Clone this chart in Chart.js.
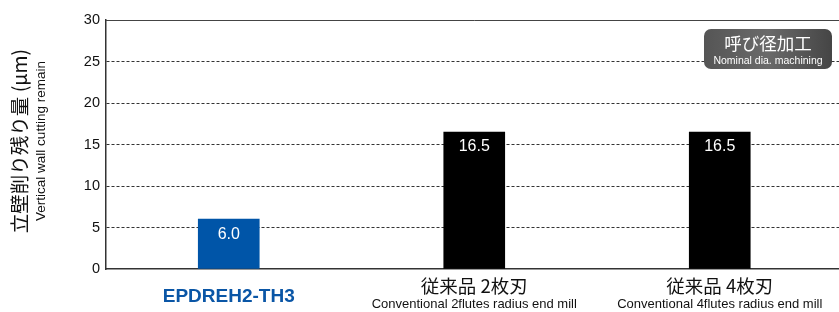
<!DOCTYPE html>
<html>
<head>
<meta charset="utf-8">
<script src="https://cdn.jsdelivr.net/npm/chart.js@4"></script>
<style>
  html, body { margin: 0; padding: 0; background: #fff; overflow: hidden; }
  #wrap { width: 845px; height: 312px; position: relative; }
</style>
</head>
<body>
<div id="wrap"><canvas id="chart-remain"></canvas></div>
<script>
var categories = ['EPDREH2-TH3', '従来品 2枚刃', '従来品 4枚刃'];
var subLabels = ['', 'Conventional 2flutes radius end mill', 'Conventional 4flutes radius end mill'];
var remainValues = [6.0, 16.5, 16.5];
var barColors = ['#0055a8', '#000000', '#000000'];
var yTicks = [0, 5, 10, 15, 20, 25, 30];

var JP = '"Noto Sans CJK JP", "Liberation Sans", sans-serif';
var EN = '"Liberation Sans", Arial, sans-serif';

var extrasPlugin = {
  id: 'extras',
  afterDraw: function (chart) {
    var ctx = chart.ctx;
    var area = chart.chartArea;
    var xs = chart.scales.x;
    ctx.save();

    // top frame line
    ctx.strokeStyle = '#444';
    ctx.lineWidth = 1;
    ctx.beginPath();
    ctx.moveTo(area.left, Math.round(area.top) + 0.5);
    ctx.lineTo(area.right, Math.round(area.top) + 0.5);
    ctx.stroke();

    // value labels inside bars
    var meta = chart.getDatasetMeta(0);
    ctx.fillStyle = '#fff';
    ctx.font = '16px ' + EN;
    ctx.textAlign = 'center';
    ctx.textBaseline = 'middle';
    meta.data.forEach(function (bar, i) {
      ctx.fillText(remainValues[i].toFixed(1), bar.x, bar.y + 15);
    });

    // category labels
    categories.forEach(function (c, i) {
      var x = xs.getPixelForValue(i);
      if (i === 0) {
        ctx.fillStyle = '#0a56a6';
        ctx.font = 'bold 19px ' + EN;
        ctx.fillText(c, x, 297);
      } else {
        ctx.fillStyle = '#111';
        ctx.font = '18.5px ' + JP;
        ctx.fillText(c, x, 286);
        ctx.font = '13px ' + EN;
        ctx.fillText(subLabels[i], x, 304);
      }
    });

    // y axis title
    ctx.fillStyle = '#111';
    ctx.translate(20, 141);
    ctx.rotate(-Math.PI / 2);
    ctx.font = '19.5px ' + JP;
    ctx.fillText('立壁削り残り量 (μm)', 0, 0);
    ctx.font = '13.5px ' + EN;
    ctx.fillText('Vertical wall cutting remain', 0, 21);
    ctx.setTransform(1, 0, 0, 1, 0, 0);

    // badge
    var bx = 704, by = 29, bw = 128, bh = 40, r = 7;
    var g = ctx.createLinearGradient(bx, 0, bx + bw, 0);
    g.addColorStop(0, '#555');
    g.addColorStop(0.5, '#6a6a6a');
    g.addColorStop(1, '#454545');
    ctx.fillStyle = g;
    ctx.beginPath();
    ctx.roundRect(bx, by, bw, bh, r);
    ctx.fill();
    ctx.fillStyle = '#fff';
    ctx.font = '17.5px ' + JP;
    ctx.fillText('呼び径加工', bx + bw / 2, by + 14);
    ctx.font = '10.5px ' + EN;
    ctx.fillText('Nominal dia. machining', bx + bw / 2, by + 32);

    ctx.restore();
  },
};

new Chart(document.getElementById('chart-remain'), {
  type: 'bar',
  data: {
    labels: categories,
    datasets: [
      {
        data: remainValues,
        backgroundColor: barColors,
        borderWidth: 0,
        barThickness: 61,
      },
    ],
  },
  options: {
    responsive: true,
    maintainAspectRatio: false,
    animation: false,
    layout: { padding: { top: 20, right: 2.5, left: 0, bottom: 0 } },
    plugins: {
      legend: { display: false },
      tooltip: { enabled: false },
    },
    scales: {
      x: {
        grid: { display: false },
        ticks: { display: false },
        border: { display: true, color: '#333', width: 1.5 },
        afterFit: function (scale) { scale.height = 43; },
      },
      y: {
        min: 0,
        max: 30,
        afterBuildTicks: function (scale) {
          scale.ticks = yTicks.map(function (v) { return { value: v }; });
        },
        ticks: {
          color: '#111',
          font: { family: EN, size: 14.5 },
          padding: 6,
        },
        grid: {
          drawTicks: false,
          color: function (c) {
            return c.tick && (c.tick.value === 0 || c.tick.value === 30) ? 'rgba(0,0,0,0)' : '#333';
          },
        },
        border: { display: true, color: '#333', width: 1.5, dash: [3, 2] },
        afterFit: function (scale) { scale.width = 106; },
      },
    },
  },
  plugins: [extrasPlugin],
});
</script>
</body>
</html>
